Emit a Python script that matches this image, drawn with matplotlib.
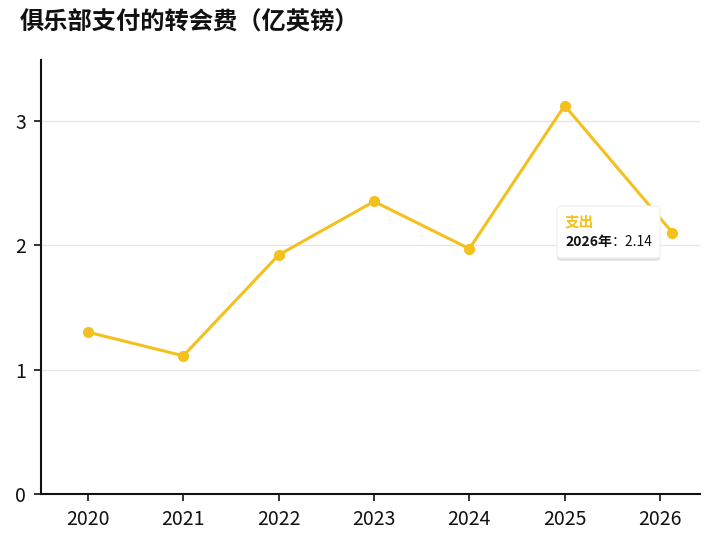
import matplotlib
matplotlib.use("Agg")
import matplotlib.pyplot as plt
from matplotlib.patches import FancyBboxPatch
import matplotlib.patheffects as pe

plt.rcParams['font.family'] = ['Noto Sans CJK SC', 'DejaVu Sans']

title = "俱乐部支付的转会费（亿英镑）"
series_name = "支出"
years = [2020, 2021, 2022, 2023, 2024, 2025, 2026]
x_pos = [2020, 2021, 2022, 2023, 2024, 2025, 2026.13]
values = [1.30, 1.11, 1.92, 2.35, 1.97, 3.12, 2.10]
tooltip_year = "2026"
tooltip_value = "2.14"
yticks = [0, 1, 2, 3]

color = '#F4C01E'

fig = plt.figure(figsize=(7.2, 5.47), dpi=100)
ax = fig.add_axes([41/720, 1-494/547, (700-41)/720, (494-60)/547])

ax.plot(x_pos, values, color=color, lw=2.2, marker='o', ms=7, zorder=3,
        solid_joinstyle='round')

ax.set_xlim(2019.507, 2026.42)
ax.set_ylim(0, 3.486)
ax.set_xticks(years)
ax.set_xticklabels([str(y) for y in years])
ax.set_yticks(yticks)
ax.set_yticklabels([str(t) for t in yticks])
for s in ['top', 'right']:
    ax.spines[s].set_visible(False)
for s in ['left', 'bottom']:
    ax.spines[s].set_linewidth(1.5)
    ax.spines[s].set_color('#111111')
ax.tick_params(axis='both', length=5, width=1.2, color='#111111',
               labelsize=14, labelcolor='#111111')
ax.tick_params(axis='x', pad=6)
ax.tick_params(axis='y', pad=6)
for t in yticks[1:]:
    ax.axhline(t, color='#e6e6e6', lw=1, zorder=0)

fig.text(20/720, 1-22/547, title, fontsize=17.5, fontweight='bold',
         va='center', ha='left', color='#111111')

# tooltip
box = FancyBboxPatch((557/720, 1-258/547), 103/720, 52/547,
                     boxstyle='round,pad=0,rounding_size=0.006',
                     transform=fig.transFigure, facecolor='white',
                     edgecolor='#eeeeee', lw=0.8, zorder=2,
                     path_effects=[pe.withSimplePatchShadow(offset=(0, -2), shadow_rgbFace='#000000', alpha=0.12)])
fig.add_artist(box)
fig.text(565/720, 1-222/547, series_name, fontsize=10.5, color=color,
         va='center', ha='left', fontweight='semibold', zorder=5)
t1 = fig.text(565/720, 1-242/547, tooltip_year + "年", fontsize=10,
              fontweight='bold', color='#111111', va='center', ha='left', zorder=5)
fig.canvas.draw()
bb = t1.get_window_extent()
fig.text(bb.x1/720, 1-242/547, "：" + tooltip_value, fontsize=10,
         color='#111111', va='center', ha='left', zorder=5)

fig.savefig('out.png', dpi=100)
